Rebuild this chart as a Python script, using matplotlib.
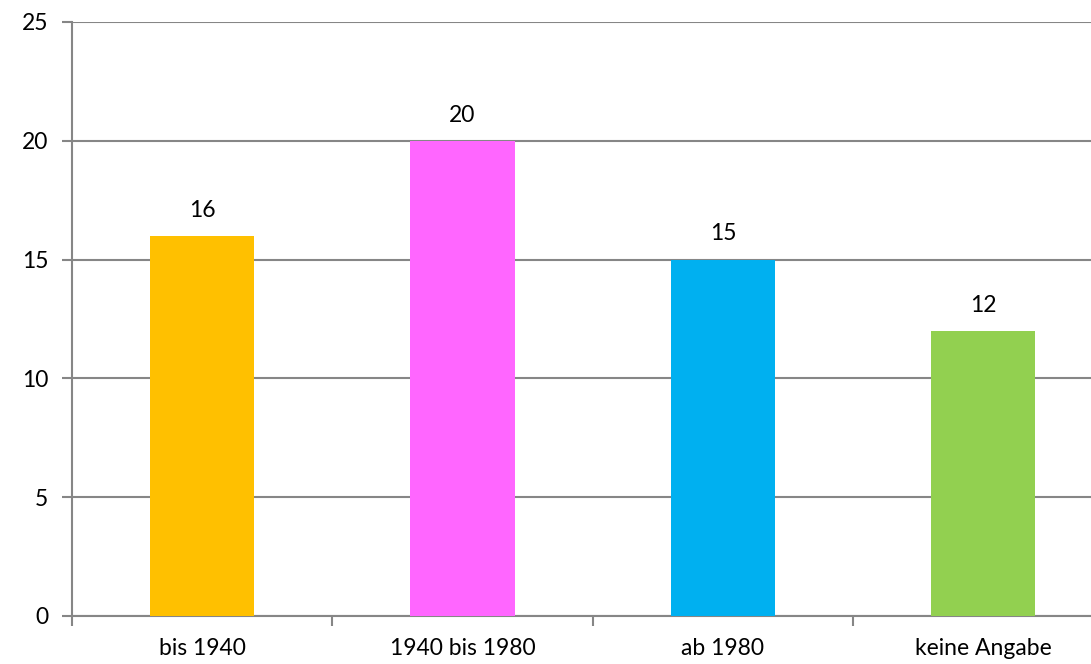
import matplotlib
matplotlib.use("Agg")
import matplotlib.pyplot as plt
import numpy as np

categories = ["bis 1940", "1940 bis 1980", "ab 1980", "keine Angabe"]
values = [16, 20, 15, 12]
colors = ["#FFC000", "#FF66FF", "#00B0F0", "#92D050"]
y_ticks = [0, 5, 10, 15, 20, 25]

plt.rcParams["font.family"] = ["Lato", "DejaVu Sans"]

W, H = 1091, 664
fig = plt.figure(figsize=(W / 100, H / 100), dpi=100)
left, right, top, bottom = 72, 1113.5, 22, 616
ax = fig.add_axes([left / W, (H - bottom) / H, (right - left) / W, (bottom - top) / H])

grid_color = "#868686"
fs = 16.5
x = np.arange(len(categories))
bars = ax.bar(x, values, width=0.40, color=colors, zorder=3)

for xi, v in zip(x, values):
    ax.annotate(str(v), (xi, v), xytext=(0, 11), textcoords="offset points",
                ha="center", va="bottom", fontsize=fs, color="#000000")

ax.set_xlim(-0.5, len(categories) - 0.5)
ax.set_ylim(0, 25)
ax.set_yticks(y_ticks)
ax.set_yticklabels([str(t) for t in y_ticks], fontsize=fs)
ax.yaxis.grid(True, color=grid_color, linewidth=1.5, zorder=0)
ax.set_axisbelow(True)

# category labels centred, tick marks on the category boundaries
ax.set_xticks(x)
ax.set_xticklabels(categories, fontsize=fs)
ax.tick_params(axis="x", which="major", length=0, pad=16)
ax.set_xticks(np.arange(len(categories) + 1) - 0.5, minor=True)
ax.tick_params(axis="x", which="minor", length=7, width=1.5, color=grid_color, direction="out")
ax.tick_params(axis="y", length=7, width=1.5, color=grid_color, pad=10)

for s in ["top", "right"]:
    ax.spines[s].set_visible(False)
for s in ["left", "bottom"]:
    ax.spines[s].set_color(grid_color)
    ax.spines[s].set_linewidth(1.5)

fig.savefig("out.png", dpi=100)
